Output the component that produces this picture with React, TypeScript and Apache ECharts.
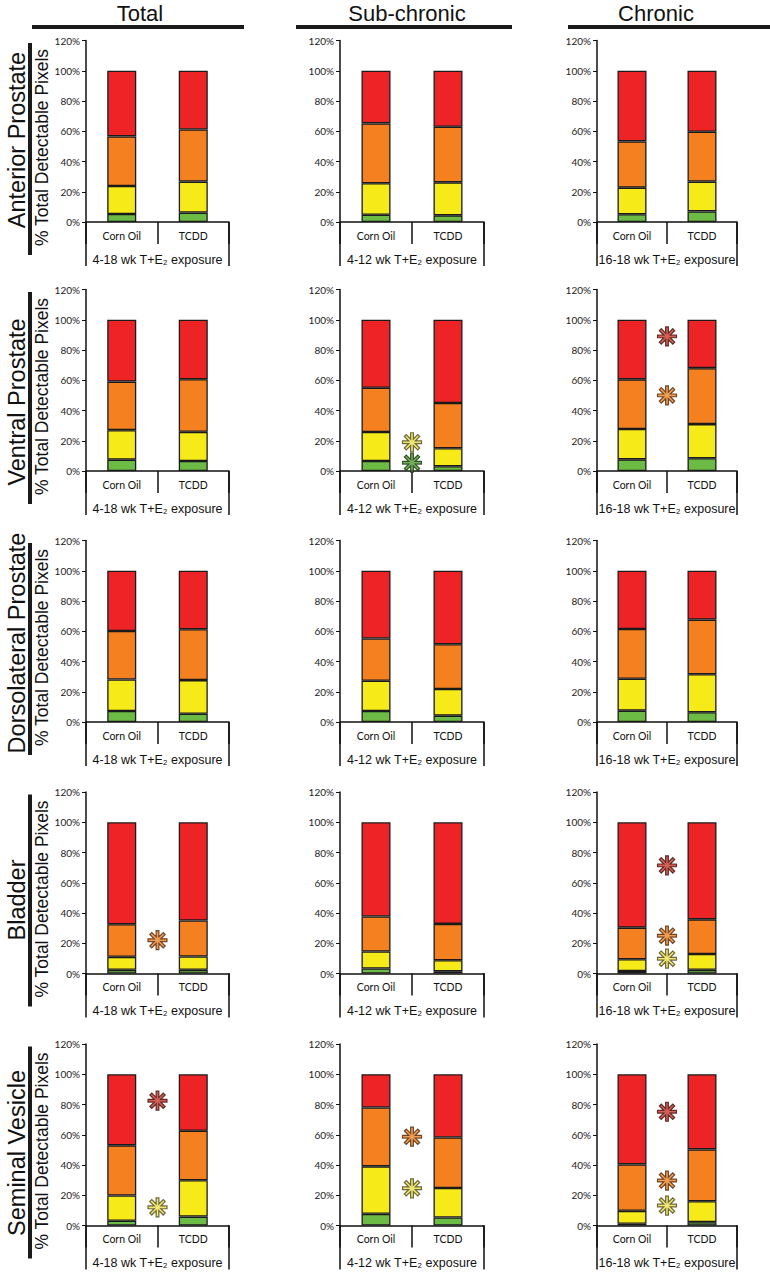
import React, { useEffect, useRef } from "react";
import * as echarts from "echarts";

// ---------- DATA ----------
const categories = ["Corn Oil", "TCDD"];
const columnTitles = ["Total", "Sub-chronic", "Chronic"];
const tissues = ["Anterior Prostate", "Ventral Prostate", "Dorsolateral Prostate", "Bladder", "Seminal Vesicle"];
const exposures = ["4-18 wk T+E\u2082 exposure", "4-12 wk T+E\u2082 exposure", "16-18 wk T+E\u2082 exposure"];
const yAxisTitle = "% Total Detectable Pixels";

// segment values per panel (row-major: tissue x column), each [Corn Oil, TCDD]
const greenSeg = [
  [5.3, 6.2], [4.8, 4.4], [5.1, 7.0],
  [7.5, 6.6], [6.6, 3.1], [7.7, 8.4],
  [7.3, 5.5], [7.3, 4.2], [7.5, 6.4],
  [2.4, 2.4], [3.3, 1.5], [1.7, 2.4],
  [3.1, 5.9], [7.7, 5.3], [1.1, 2.2],
];
const yellowSeg = [
  [18.5, 20.5], [20.8, 21.8], [17.6, 19.7],
  [19.5, 19.3], [19.2, 11.9], [20.1, 22.6],
  [20.8, 22.2], [20.0, 17.6], [21.1, 25.2],
  [8.6, 8.8], [11.2, 7.3], [7.7, 10.5],
  [16.7, 24.0], [31.4, 19.5], [8.6, 13.8],
];
const orangeSeg = [
  [32.8, 34.5], [39.6, 36.8], [30.6, 33.0],
  [32.1, 34.8], [29.2, 30.0], [32.8, 37.0],
  [32.1, 33.6], [27.9, 29.6], [32.9, 36.1],
  [21.6, 23.8], [23.2, 24.0], [20.9, 22.9],
  [33.2, 32.7], [38.9, 33.4], [30.7, 34.3],
];
const redSeg = [
  [43.4, 38.8], [34.8, 37.0], [46.7, 40.3],
  [40.9, 39.3], [45.0, 55.0], [39.4, 32.0],
  [39.8, 38.7], [44.8, 48.6], [38.5, 32.3],
  [67.4, 65.0], [62.3, 67.2], [69.7, 64.2],
  [47.0, 37.4], [22.0, 41.8], [59.6, 49.7],
];

// significance asterisks
const asteriskPanel = [4, 4, 5, 5, 9, 11, 11, 11, 12, 12, 13, 13, 14, 14, 14];
const asteriskValue = [19, 5.5, 89, 50, 22, 71.5, 25, 9.8, 82.5, 12, 58.7, 24.6, 75.2, 29.7, 13.2];
const asteriskLevel = ["yellow", "green", "red", "orange", "orange", "red", "orange", "yellow", "red", "yellow", "orange", "yellow", "red", "orange", "yellow"];

// ---------- STYLE / LAYOUT ----------
const segColors = { green: "#6cbb45", yellow: "#f6ea18", orange: "#f4801f", red: "#ee2326" };
const starFill = { green: "#4f9a32", yellow: "#ece055", orange: "#ec862a", red: "#c8392c" };
const starStroke = { green: "#1a3310", yellow: "#4a4515", orange: "#4f2406", red: "#3f0c0c" };

const colLeft = [86, 340, 597];
const colWidth = [143, 144, 140];
const rowTop = [40.5, 289.5, 540.5, 792, 1044];
const gridHeight = 181.5;
const rowLabelCenter = [140, 402, 643, 900, 1153];
const titleCenter = [140, 407, 656];
const titleLine = [[32, 244], [296, 512], [568, 770]];

const tickFont = "Lato, 'Open Sans', sans-serif";
const headFont = "'Liberation Sans', Arial, sans-serif";
const ink = "#111111";

function asteriskPath(): string {
  const L = 10, w = 1.45;
  const r = w / Math.sin(Math.PI / 8);
  const pts: string[] = [];
  for (let k = 0; k < 8; k++) {
    const a = (k * Math.PI) / 4;
    const dx = Math.cos(a), dy = Math.sin(a);
    const px = -dy, py = dx;
    pts.push(`${(L * dx - w * px).toFixed(3)} ${(L * dy - w * py).toFixed(3)}`);
    pts.push(`${(L * dx + w * px).toFixed(3)} ${(L * dy + w * py).toFixed(3)}`);
    const b = a + Math.PI / 8;
    pts.push(`${(r * Math.cos(b)).toFixed(3)} ${(r * Math.sin(b)).toFixed(3)}`);
  }
  return "path://M" + pts.join(" L") + " Z";
}

function buildOption() {
  const grids: any[] = [];
  const xAxes: any[] = [];
  const yAxes: any[] = [];
  const series: any[] = [];
  const star = asteriskPath();

  for (let r = 0; r < tissues.length; r++) {
    for (let c = 0; c < columnTitles.length; c++) {
      const i = r * 3 + c;
      grids.push({ left: colLeft[c], width: colWidth[c], top: rowTop[r], height: gridHeight, containLabel: false });
      xAxes.push({
        type: "category",
        gridIndex: i,
        data: categories,
        axisLine: { show: true, lineStyle: { color: ink, width: 1.5 } },
        axisTick: { show: true, interval: 0, length: 22, lineStyle: { color: ink, width: 1.5 } },
        axisLabel: { interval: 0, margin: 8, fontSize: 10.5, fontFamily: tickFont, color: ink },
        splitLine: { show: false },
      });
      xAxes.push({
        type: "category",
        gridIndex: i,
        position: "bottom",
        data: [exposures[c]],
        axisLine: { show: false },
        axisTick: { show: true, interval: 0, length: 44, lineStyle: { color: ink, width: 1.5 } },
        axisLabel: { interval: 0, margin: 31, fontSize: 12.5, fontFamily: headFont, color: ink },
        splitLine: { show: false },
      });
      xAxes.push({ type: "value", gridIndex: i, min: 0, max: 2, show: false });
      yAxes.push({
        type: "value",
        gridIndex: i,
        min: 0,
        max: 120,
        interval: 20,
        axisLine: { show: true, lineStyle: { color: ink, width: 1.5 } },
        axisTick: { show: true, length: 4, lineStyle: { color: ink, width: 1 } },
        axisLabel: { formatter: "{value}%", fontSize: 10, fontFamily: tickFont, color: "#222", margin: 6 },
        splitLine: { show: false },
      });
      const segs: [string, number[][]][] = [
        ["green", greenSeg],
        ["yellow", yellowSeg],
        ["orange", orangeSeg],
        ["red", redSeg],
      ];
      for (const [name, arr] of segs) {
        series.push({
          type: "bar",
          name,
          stack: "p" + i,
          xAxisIndex: i * 3,
          yAxisIndex: i,
          barWidth: 29,
          data: arr[i],
          itemStyle: { color: (segColors as any)[name], borderColor: "#1a1a1a", borderWidth: 1.3 },
          emphasis: { disabled: true },
        });
      }
      const stars: any[] = [];
      asteriskPanel.forEach((p, k) => {
        if (p === i) {
          const lvl = asteriskLevel[k];
          stars.push({
            value: [1, asteriskValue[k]],
            itemStyle: { color: (starFill as any)[lvl], borderColor: (starStroke as any)[lvl], borderWidth: 1.2 },
          });
        }
      });
      if (stars.length) {
        series.push({
          type: "scatter",
          xAxisIndex: i * 3 + 2,
          yAxisIndex: i,
          symbol: star,
          symbolSize: 19,
          data: stars,
          z: 5,
          emphasis: { disabled: true },
        });
      }
    }
  }

  const graphics: any[] = [];
  columnTitles.forEach((t, c) => {
    graphics.push({
      type: "text",
      x: titleCenter[c],
      y: 13,
      style: { text: t, font: `22px ${headFont}`, fill: ink, align: "center", verticalAlign: "middle" },
    });
    graphics.push({
      type: "rect",
      shape: { x: titleLine[c][0], y: 25, width: titleLine[c][1] - titleLine[c][0], height: 4 },
      style: { fill: "#1a1a1a" },
    });
  });
  tissues.forEach((t, r) => {
    graphics.push({
      type: "text",
      x: 17,
      y: rowLabelCenter[r],
      rotation: Math.PI / 2,
      style: { text: t, font: `23.5px ${headFont}`, fill: ink, align: "center", verticalAlign: "middle" },
    });
    graphics.push({
      type: "rect",
      shape: { x: 28, y: rowTop[r] + 2.5, width: 4, height: 212 },
      style: { fill: "#1a1a1a" },
    });
    graphics.push({
      type: "text",
      x: 42,
      y: rowTop[r] + 107,
      rotation: Math.PI / 2,
      style: { text: yAxisTitle, font: `17.5px ${headFont}`, fill: ink, align: "center", verticalAlign: "middle" },
    });
  });

  return {
    animation: false,
    backgroundColor: "#ffffff",
    grid: grids,
    xAxis: xAxes,
    yAxis: yAxes,
    series,
    graphic: { elements: graphics },
  };
}

export default function App() {
  const ref = useRef<HTMLDivElement>(null);
  useEffect(() => {
    if (!ref.current) return;
    const chart = echarts.init(ref.current, null, { renderer: "svg" });
    chart.setOption(buildOption() as any);
    return () => chart.dispose();
  }, []);
  return <div ref={ref} style={{ position: "absolute", left: 0, top: 0, width: 770, height: 1275 }} />;
}
